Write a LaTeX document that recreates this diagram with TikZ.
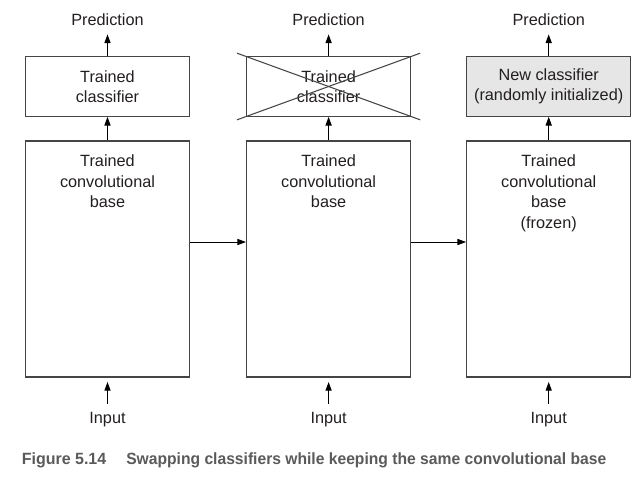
\documentclass[tikz,border=0pt]{standalone}
\usepackage{fontspec}
\setmainfont{Liberation Sans}
\usepackage{graphicx}
\usetikzlibrary{arrows.meta,calc}
\definecolor{edgegray}{HTML}{454545}
\definecolor{newfill}{HTML}{E6E6E6}
\definecolor{inktext}{HTML}{231F20}
\definecolor{capgray}{HTML}{5A5A5A}
\begin{document}
\begin{tikzpicture}[x=0.75pt,y=-0.75pt,
  font=\fontsize{12.2pt}{15.4pt}\selectfont,
  every node/.style={text=inktext},
  clsbox/.style={draw=edgegray, line width=0.9pt, minimum width=123pt, minimum height=44.6pt, inner sep=0pt, align=center},
  convbox/.style={draw=edgegray, line width=0.9pt, minimum width=123pt, minimum height=177pt, inner sep=0pt},
  lbl/.style={inner sep=0pt, align=center},
  flow/.style={draw=black, line width=0.7pt, -{Triangle[length=6.5pt,width=4.6pt]}},
  xmark/.style={draw=edgegray, line width=0.8pt}
]
\useasboundingbox (0,0) rectangle (640,480);

% classifier heads
\node[clsbox] (cls1) at (107.5,86.5) {Trained\\classifier};
\node[clsbox] (cls2) at (328.6,86.5) {Trained\\classifier};
\node[clsbox, fill=newfill] (cls3) at (548.7,86.5) {New classifier\\(randomly initialized)};

% convolutional bases
\node[convbox] (conv1) at (107.5,259) {};
\node[convbox] (conv2) at (328.6,259) {};
\node[convbox] (conv3) at (548.7,259) {};
\node[lbl, anchor=north] (t1) at (107.5,154.5) {Trained\\convolutional\\base};
\node[lbl, anchor=north] (t2) at (328.6,154.5) {Trained\\convolutional\\base};
\node[lbl, anchor=north] (t3) at (548.7,154.5) {Trained\\convolutional\\base\\(frozen)};

% outputs and inputs
\foreach \i/\x in {1/107.5, 2/328.6, 3/548.7}{
  \node[lbl, anchor=base] (pred\i) at (\x,25.7) {Prediction};
  \node[lbl, anchor=base] (in\i) at (\x,423) {Input};
}

% vertical flow
\foreach \i in {1,2,3}{
  \draw[flow, shorten >=6.2pt] (cls\i.north) -- (pred\i.south);
  \draw[flow] (conv\i.north) -- (cls\i.south);
  \draw[flow, shorten <=6pt, shorten >=3.3pt] (in\i.north) -- (conv\i.south);
}

% hand-over between stages
\draw[flow] ([yshift=12.75pt]conv1.east) -- ([yshift=12.75pt]conv2.west);
\draw[flow] ([yshift=12.75pt]conv2.east) -- ([yshift=12.75pt]conv3.west);

% discarded classifier
\draw[xmark] ($(cls2.north west)+(-9,-3)$) -- ($(cls2.south east)+(9,3)$);
\draw[xmark] ($(cls2.south west)+(-9,3)$) -- ($(cls2.north east)+(9,-3)$);

% caption
\node[inner sep=0pt, anchor=base west, text=capgray, font=\fontsize{12.2pt}{14pt}\selectfont\bfseries] (capnum) at (21.5,464) {\resizebox{63.4pt}{\height}{Figure 5.14}};
\node[inner sep=0pt, anchor=base west, text=capgray, font=\fontsize{12.2pt}{14pt}\selectfont\bfseries] (captext) at (126,464) {\resizebox{360pt}{\height}{Swapping classifiers while keeping the same convolutional base}};
\end{tikzpicture}
\end{document}
